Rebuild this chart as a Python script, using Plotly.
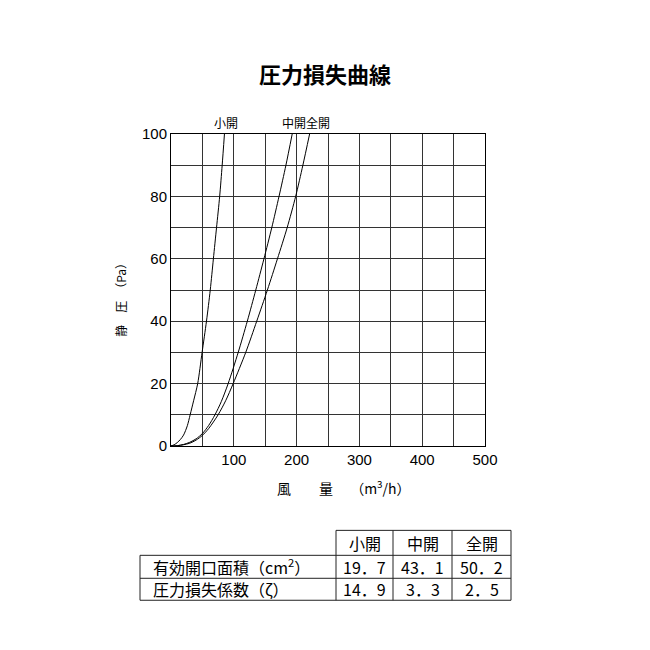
import plotly.graph_objects as go

# ---- data ----
small_q = [0, 5, 10, 15, 20, 26, 30.5, 36, 42.5, 49.5, 56.5, 62.5, 67.5, 72.5, 77.5, 81.5, 85.1]
small_p = [0, 0.4, 1.1, 2.1, 3.5, 6.5, 10, 14.5, 20, 30, 40, 50, 60, 70, 80, 90, 100]

mid_q = [0, 10, 20, 30, 40, 50, 60, 70, 80, 91, 107, 121.5, 135, 148, 160.5, 172, 183, 193]
mid_p = [0, 0.1, 0.5, 1.2, 2.3, 4.0, 6.6, 10, 14.2, 20, 30, 40, 50, 60, 70, 80, 90, 100]

full_q = [0, 10, 20, 30, 40, 50, 60, 75, 87, 99, 119, 136.5, 153.5, 169.5, 185, 198.5, 210, 220.7]
full_p = [0, 0.1, 0.4, 0.9, 1.9, 3.4, 5.6, 10, 14.5, 20, 30, 40, 50, 60, 70, 80, 90, 100]

x_ticks = [100, 200, 300, 400, 500]
y_ticks = [0, 20, 40, 60, 80, 100]

table_cols = ["小開", "中開", "全開"]
table_rows = ["有効開口面積（cm<sup>2</sup>）", "圧力損失係数（ζ）"]
area_vals = ["19．7", "43．1", "50．2"]
coef_vals = ["14．9", "3．3", "2．5"]

CJK = "Noto Sans CJK JP"
NUM = "Liberation Sans, Arial"

# plot area in pixels
L, R, T, B = 171, 485, 134, 446.5
W = R - L
H = B - T


def px(x):
    return (x - L) / W


def py(y):
    return (B - y) / H


fig = go.Figure()
for q, p in [(small_q, small_p), (mid_q, mid_p), (full_q, full_p)]:
    fig.add_trace(go.Scatter(x=q, y=p, mode="lines",
                             line=dict(color="black", width=1, shape="spline", smoothing=0.8),
                             showlegend=False, hoverinfo="skip"))

grid_col = "#333333"
fig.update_layout(
    width=650, height=650,
    margin=dict(l=L, r=650 - R, t=T, b=650 - B),
    paper_bgcolor="white", plot_bgcolor="white",
    xaxis=dict(range=[0, 500], tickvals=x_ticks, showgrid=True, gridcolor=grid_col, gridwidth=1,
               minor=dict(dtick=50, tick0=0, showgrid=True, gridcolor=grid_col, gridwidth=1),
               showline=True, mirror=True, linecolor="black", linewidth=1, zeroline=False,
               tickfont=dict(family=NUM, size=15, color="black"), ticks="", fixedrange=True),
    yaxis=dict(range=[0, 100], tickvals=y_ticks, showgrid=True, gridcolor=grid_col, gridwidth=1,
               minor=dict(dtick=10, tick0=0, showgrid=True, gridcolor=grid_col, gridwidth=1),
               showline=True, mirror=True, linecolor="black", linewidth=1, zeroline=False,
               tickfont=dict(family=NUM, size=15, color="black"), ticks="", fixedrange=True),
)

ann = []


def add_text(x, y, text, size, anchor="center", angle=0):
    ann.append(dict(x=px(x), y=py(y), xref="paper", yref="paper", text=text, showarrow=False,
                    xanchor=anchor, yanchor="middle", textangle=angle,
                    font=dict(family=CJK, size=size, color="black")))


add_text(325, 73, "<b>圧力損失曲線</b>", 22)
add_text(226, 122, "小開", 12)
add_text(306, 122, "中開全開", 12)
add_text(121, 297, "静　圧　（Pa）", 12, angle=-90)
add_text(344, 488, "風　　量　 （m<sup>3</sup>/h）", 14)

# table
row_y = [531, 556, 579, 601]
col_x = [140, 336, 393, 452, 511]
shapes = []
line = dict(color="#222222", width=1)
shapes.append(dict(type="line", xref="paper", yref="paper", x0=px(col_x[1]), x1=px(col_x[4]),
                   y0=py(row_y[0]), y1=py(row_y[0]), line=line))
for yy in row_y[1:]:
    shapes.append(dict(type="line", xref="paper", yref="paper", x0=px(col_x[0]), x1=px(col_x[4]),
                       y0=py(yy), y1=py(yy), line=line))
shapes.append(dict(type="line", xref="paper", yref="paper", x0=px(col_x[0]), x1=px(col_x[0]),
                   y0=py(row_y[1]), y1=py(row_y[3]), line=line))
for xx in col_x[1:]:
    shapes.append(dict(type="line", xref="paper", yref="paper", x0=px(xx), x1=px(xx),
                       y0=py(row_y[0]), y1=py(row_y[3]), line=line))

for i, c in enumerate(table_cols):
    add_text((col_x[i + 1] + col_x[i + 2]) / 2, (row_y[0] + row_y[1]) / 2, c, 16)
for r, (label, vals) in enumerate(zip(table_rows, [area_vals, coef_vals])):
    cy = (row_y[r + 1] + row_y[r + 2]) / 2
    add_text(151, cy, label, 16, anchor="left")
    for i, v in enumerate(vals):
        add_text((col_x[i + 1] + col_x[i + 2]) / 2, cy, v, 16)

fig.update_layout(annotations=ann, shapes=shapes)
fig.write_html("out.html")
